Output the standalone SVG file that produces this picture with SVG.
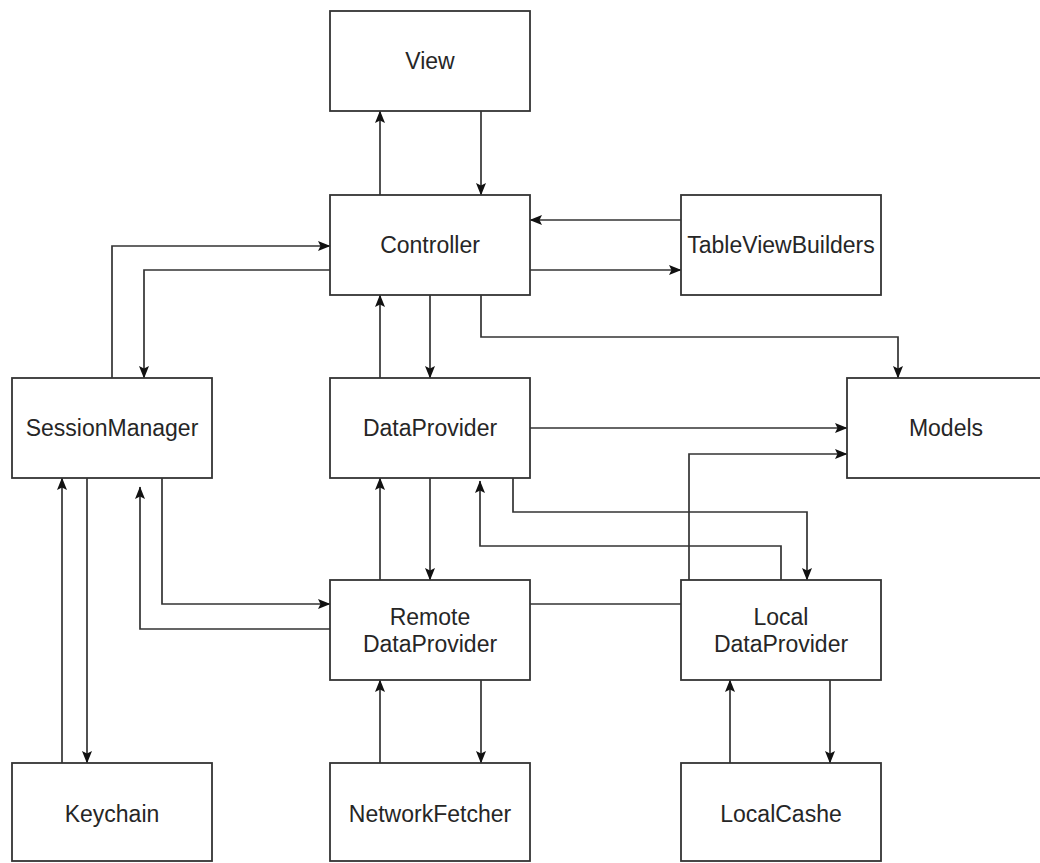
<svg xmlns="http://www.w3.org/2000/svg" width="1040" height="863" viewBox="0 0 1040 863">
<style>
.box{fill:#fff;stroke:#333;stroke-width:1.8}
.lbl{font-family:"Liberation Sans",Arial,sans-serif;font-size:23px;fill:#262626;text-anchor:middle}
.c{fill:none;stroke:#333;stroke-width:1.7}
.a{marker-end:url(#arr)}
</style>
<defs>
<marker id="arr" markerUnits="userSpaceOnUse" markerWidth="13" markerHeight="11" refX="12" refY="5.5" orient="auto" viewBox="0 0 13 11">
<path d="M0,0.5 L12.5,5.5 L0,10.5 L2.5,5.5 z" fill="#111"/>
</marker>
</defs>
<rect width="1040" height="863" fill="#fff"/>
<g id="connectors">
<path class="c a" d="M380,195 V111"/>
<path class="c a" d="M481,111 V195"/>
<path class="c a" d="M681,220 H530"/>
<path class="c a" d="M530,270 H681"/>
<path class="c a" d="M112,378 V246 H330"/>
<path class="c a" d="M330,270 H144 V378"/>
<path class="c a" d="M380,378 V295"/>
<path class="c a" d="M430,295 V378"/>
<path class="c a" d="M481,295 V337 H898 V378"/>
<path class="c a" d="M530,428 H847"/>
<path class="c a" d="M689,580 V454 H847"/>
<path class="c a" d="M513,478 V512 H807 V580"/>
<path class="c a" d="M781,580 V546 H480 V481"/>
<path class="c a" d="M380,580 V478"/>
<path class="c a" d="M430,478 V580"/>
<path class="c" d="M530,604 H681"/>
<path class="c a" d="M162,478 V604 H330"/>
<path class="c a" d="M330,629 H140 V487"/>
<path class="c a" d="M62,763 V478"/>
<path class="c a" d="M87,478 V763"/>
<path class="c a" d="M380,763 V680"/>
<path class="c a" d="M481,680 V763"/>
<path class="c a" d="M730,763 V680"/>
<path class="c a" d="M830,680 V763"/>
</g>
<g id="view"><rect class="box" x="330" y="11" width="200" height="100"/><text class="lbl" x="430" y="69">View</text></g>
<g id="controller"><rect class="box" x="330" y="195" width="200" height="100"/><text class="lbl" x="430" y="253">Controller</text></g>
<g id="tableviewbuilders"><rect class="box" x="681" y="195" width="200" height="100"/><text class="lbl" x="781" y="253">TableViewBuilders</text></g>
<g id="sessionmanager"><rect class="box" x="12" y="378" width="200" height="100"/><text class="lbl" x="112" y="436">SessionManager</text></g>
<g id="dataprovider"><rect class="box" x="330" y="378" width="200" height="100"/><text class="lbl" x="430" y="436">DataProvider</text></g>
<g id="models"><rect class="box" x="847" y="378" width="200" height="100"/><text class="lbl" x="946" y="436">Models</text></g>
<g id="remotedataprovider"><rect class="box" x="330" y="580" width="200" height="100"/><text class="lbl" x="430" y="625">Remote</text><text class="lbl" x="430" y="652">DataProvider</text></g>
<g id="localdataprovider"><rect class="box" x="681" y="580" width="200" height="100"/><text class="lbl" x="781" y="625">Local</text><text class="lbl" x="781" y="652">DataProvider</text></g>
<g id="keychain"><rect class="box" x="12" y="763" width="200" height="98"/><text class="lbl" x="112" y="822">Keychain</text></g>
<g id="networkfetcher"><rect class="box" x="330" y="763" width="200" height="98"/><text class="lbl" x="430" y="822">NetworkFetcher</text></g>
<g id="localcashe"><rect class="box" x="681" y="763" width="200" height="98"/><text class="lbl" x="781" y="822">LocalCashe</text></g>
</svg>
